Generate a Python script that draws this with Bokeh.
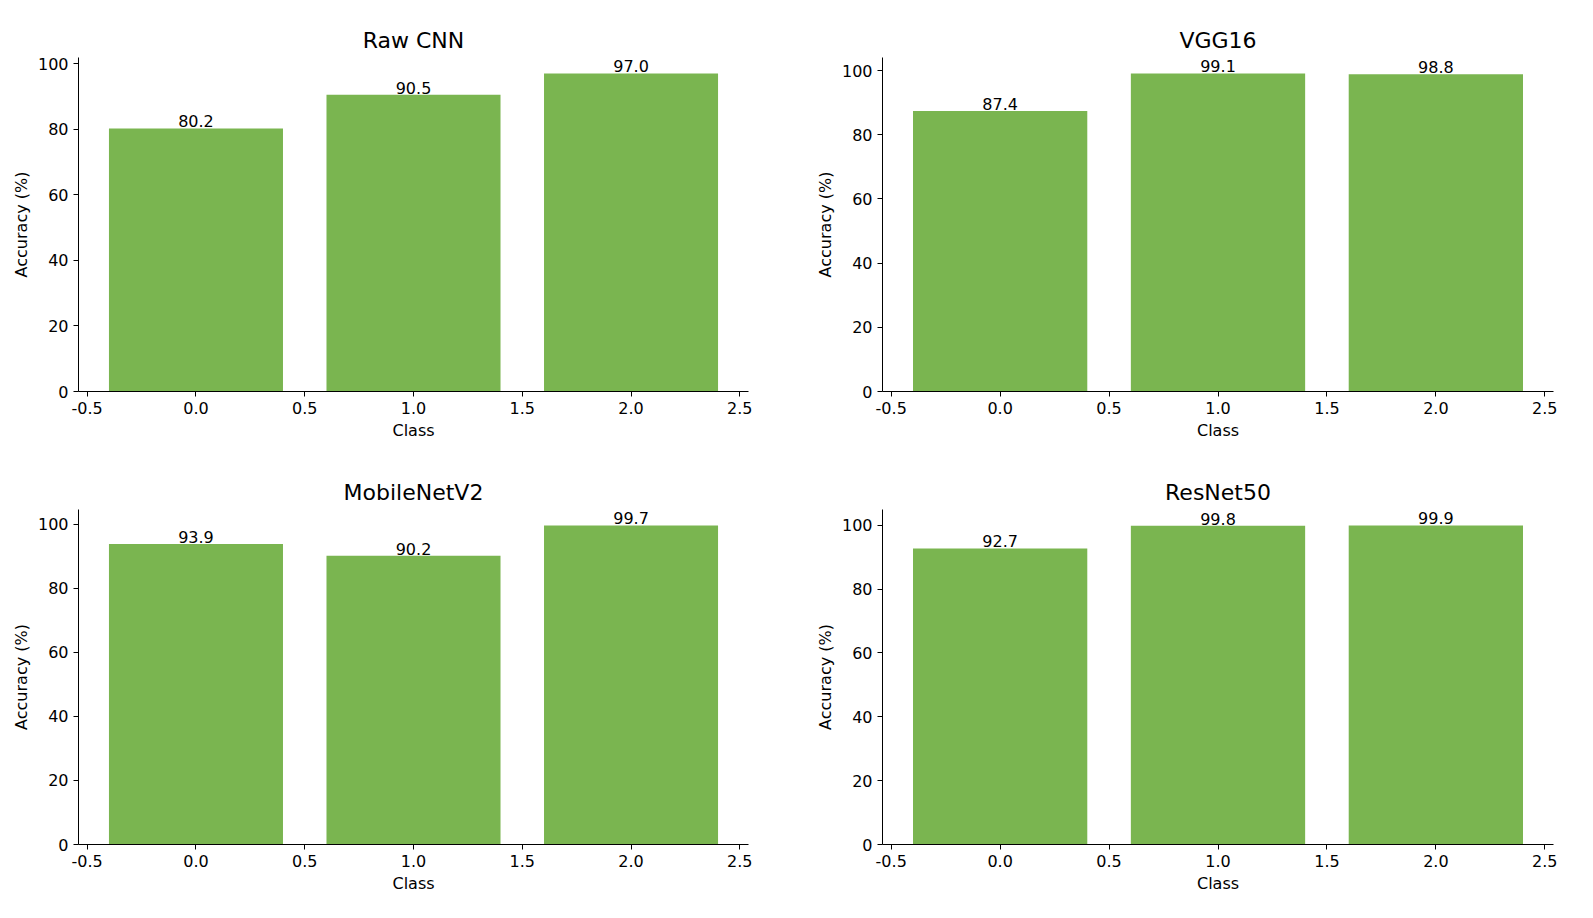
from bokeh.plotting import figure
from bokeh.layouts import gridplot
from bokeh.models import ColumnDataSource, Range1d, FixedTicker, NumeralTickFormatter
from bokeh.core.properties import value
from bokeh.embed import file_html
from bokeh.resources import INLINE

models = ["Raw CNN", "VGG16", "MobileNetV2", "ResNet50"]
classes = [0, 1, 2]
acc_raw = [80.2, 90.5, 97.0]
acc_vgg = [87.4, 99.1, 98.8]
acc_mob = [93.9, 90.2, 99.7]
acc_res = [92.7, 99.8, 99.9]
x_ticks = [-0.5, 0.0, 0.5, 1.0, 1.5, 2.0, 2.5]
y_ticks = [0, 20, 40, 60, 80, 100]

FONT = "DejaVu Sans"
GREEN = "#7ab550"


def make_panel(title, vals, w, h, left, right, top, bottom):
    ymax = max(vals) * 1.05
    p = figure(width=w, height=h, title=title, output_backend="svg",
               toolbar_location=None, x_range=Range1d(-0.54, 2.54),
               y_range=Range1d(0, ymax), min_border_left=left,
               min_border_right=right, min_border_top=top, min_border_bottom=bottom)
    src = ColumnDataSource(dict(x=classes, top=vals,
                                lab=["%.1f" % v for v in vals]))
    p.vbar(x="x", top="top", width=0.8, source=src, fill_color=GREEN, line_color=None)
    p.text(x="x", y="top", text="lab", source=src, text_align="center",
           text_baseline="bottom", y_offset=-1, text_font=value(FONT),
           text_font_size="16px", text_color="black")
    p.title.align = "center"
    p.title.text_font = FONT
    p.title.text_font_size = "22px"
    p.title.text_font_style = "normal"
    p.title.text_color = "black"
    p.outline_line_color = None
    p.grid.grid_line_color = None
    p.xaxis.ticker = FixedTicker(ticks=x_ticks)
    p.xaxis.formatter = NumeralTickFormatter(format="0.0")
    p.yaxis.ticker = FixedTicker(ticks=y_ticks)
    p.xaxis.axis_label = "Class"
    p.yaxis.axis_label = "Accuracy (%)"
    for ax in (p.xaxis, p.yaxis):
        ax.axis_label_text_font = FONT
        ax.axis_label_text_font_size = "16px"
        ax.axis_label_text_font_style = "normal"
        ax.axis_label_text_color = "black"
        ax.major_label_text_font = FONT
        ax.major_label_text_font_size = "16px"
        ax.major_label_text_color = "black"
        ax.minor_tick_line_color = None
        ax.major_tick_in = 0
        ax.major_tick_out = 5
        ax.axis_line_color = "black"
        ax.major_tick_line_color = "black"
        ax.axis_label_standoff = 4
    return p


p1 = make_panel(models[0], acc_raw, 790, 455, 78, 42, 57, 64)
p2 = make_panel(models[1], acc_vgg, 787, 455, 92, 24, 57, 64)
p3 = make_panel(models[2], acc_mob, 790, 455, 54, 42, 54, 66)
p3.min_border_left = 78
p4 = make_panel(models[3], acc_res, 787, 455, 92, 24, 54, 66)

p = gridplot([[p1, p2], [p3, p4]], toolbar_location=None)

open("out.html", "w").write(file_html(p, INLINE))
